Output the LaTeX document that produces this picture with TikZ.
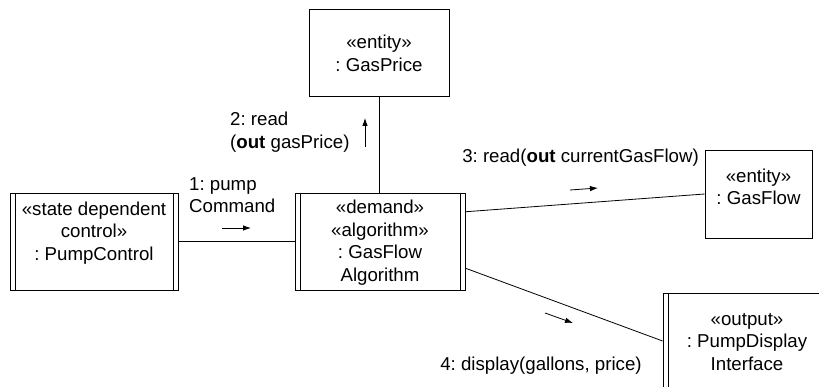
\documentclass[tikz,border=0pt]{standalone}
\usepackage{fontspec}
\setmainfont{Liberation Sans}
\usetikzlibrary{arrows.meta,calc}
\begin{document}
\frenchspacing
\begin{tikzpicture}[x=1pt,y=-1pt,
  font=\fontsize{18.67}{22.5}\selectfont,
  obj/.style={draw, line width=0.8pt, inner sep=0pt},
  activeobj/.style={obj, path picture={
    \draw[line width=0.8pt] ([xshift=5pt]path picture bounding box.north west) -- ([xshift=5pt]path picture bounding box.south west);
    \draw[line width=0.8pt] ([xshift=-5pt]path picture bounding box.north east) -- ([xshift=-5pt]path picture bounding box.south east);}},
  txt/.style={inner sep=0pt, align=center},
  msg/.style={inner sep=0pt, align=left},
  link/.style={line width=0.8pt},
  flow/.style={-{Latex[length=8pt,width=5.5pt]}, line width=0.8pt}]
\useasboundingbox (0,0) rectangle (819,387);
\clip (0,0) rectangle (819,387);
% objects
\node[activeobj, minimum width=168, minimum height=97] (pc) at (94,241.5) {};
\node[txt] (pcT) at (94,233) {«state dependent\\control»\\: PumpControl};
\node[activeobj, minimum width=170, minimum height=97] (alg) at (380,241.5) {};
\node[txt] (algT) at (380,242.5) {«demand»\\«algorithm»\\: GasFlow\\Algorithm};
\node[obj, minimum width=140, minimum height=87] (gp) at (379,52.5) {};
\node[txt] (gpT) at (379,53.5) {«entity»\\: GasPrice};
\node[obj, minimum width=107, minimum height=88] (gf) at (758.5,194) {};
\node[txt] (gfT) at (758.5,187) {«entity»\\: GasFlow};
\node[activeobj, minimum width=168, minimum height=100] (pd) at (747,343) {};
\node[txt] (pdT) at (747,342) {«output»\\: PumpDisplay\\Interface};
% links
\draw[link] (pc.east) -- (alg.west);
\draw[link] (gp.south) -- (gp.south |- alg.north);
\draw[link] ($(alg.north east)!0.196!(alg.south east)$) -- (gf.west);
\draw[link] ($(alg.north east)!0.773!(alg.south east)$) -- ($(pd.north west)!0.48!(pd.south west)$);
% messages
\node[msg, anchor=west] (m1) at (189,195) {1: pump\\Command};
\node[msg, anchor=west] (m2) at (230,132) {2: read\\(\textbf{out} gasPrice)};
\node[msg, anchor=east] (m3) at (699,158) {3: read(\textbf{out} currentGasFlow)};
\node[msg] (m4) at (541,366) {4: display(gallons, price)};
% message arrows
\coordinate (a1s) at (222,228); \coordinate (a1e) at (251,228);
\coordinate (a2s) at (365,147); \coordinate (a2e) at (365,118);
\coordinate (a3s) at (570,190); \coordinate (a3e) at (598,188);
\coordinate (a4s) at (545,313); \coordinate (a4e) at (573,323);
\draw[flow] (a1s) -- (a1e);
\draw[flow] (a2s) -- (a2e);
\draw[flow] (a3s) -- (a3e);
\draw[flow] (a4s) -- (a4e);
\end{tikzpicture}
\end{document}
